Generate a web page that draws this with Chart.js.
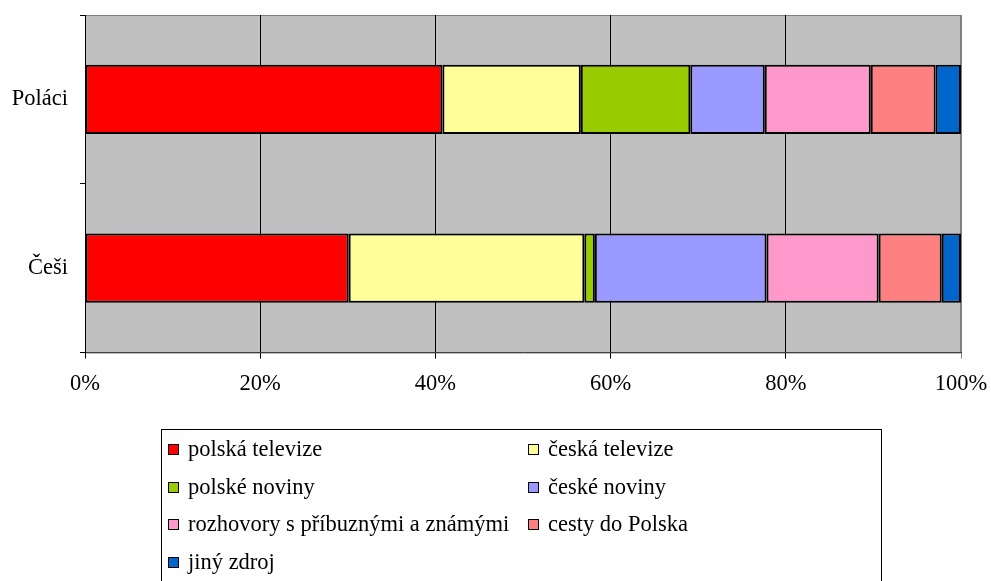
<!DOCTYPE html>
<html>
<head>
<meta charset="utf-8">
<script src="https://cdn.jsdelivr.net/npm/chart.js@4"></script>
<style>
  body { margin: 0; background: #fff; overflow: hidden; }
  #wrap { position: relative; width: 991px; height: 581px; }
  #legend {
    position: absolute; left: 161px; top: 429px; width: 721px; height: 200px;
    border: 1px solid #000; box-sizing: border-box;
    font-family: 'Liberation Serif', 'DejaVu Serif', serif; font-size: 22.5px; color: #000;
  }
  .item { position: absolute; height: 30px; line-height: 30px; white-space: nowrap; }
  .item span.box {
    position: absolute; left: 0; top: 10px; width: 9px; height: 9px;
    border: 1px solid #000; box-sizing: content-box;
  }
  .item span.txt { position: absolute; left: 20px; top: 0; }
</style>
</head>
<body>
<div id="wrap">
  <canvas id="chart" width="991" height="581"></canvas>
  <div id="legend"></div>
</div>
<script>
// categories (top to bottom)
const groups = ['Poláci', 'Češi'];

// percent shares per source
const polskaTelevize = [40.8, 30.1];
const ceskaTelevize = [15.8, 26.9];
const polskeNoviny = [12.5, 1.2];
const ceskeNoviny = [8.5, 19.6];
const rozhovory = [12.1, 12.8];
const cestyDoPolska = [7.4, 7.2];
const jinyZdroj = [2.9, 2.2];

const xTicks = [0, 20, 40, 60, 80, 100];

const seriesNames = ['polská televize', 'česká televize', 'polské noviny', 'české noviny',
  'rozhovory s příbuznými a známými', 'cesty do Polska', 'jiný zdroj'];
const seriesData = [polskaTelevize, ceskaTelevize, polskeNoviny, ceskeNoviny, rozhovory, cestyDoPolska, jinyZdroj];
const colors = ['#FF0000', '#FFFF99', '#99CC00', '#9999FF', '#FF99CC', '#FF8080', '#0066CC'];

const serif = "'Liberation Serif', 'DejaVu Serif', serif";

// gray plot area + gray frame
const plotBg = {
  id: 'plotBg',
  beforeDraw(chart) {
    const { ctx, chartArea: a } = chart;
    ctx.save();
    ctx.fillStyle = '#C0C0C0';
    ctx.fillRect(a.left, a.top, a.right - a.left, a.bottom - a.top);
    ctx.strokeStyle = '#808080';
    ctx.lineWidth = 1;
    ctx.strokeRect(a.left + 0.5, a.top + 0.5, a.right - a.left - 1, a.bottom - a.top);
    ctx.restore();
  }
};

// drop the label overflow padding so layout.padding decides the plot edges
function noPad(s) {
  s.paddingTop = 0; s.paddingBottom = 0; s.paddingLeft = 0; s.paddingRight = 0;
}

const chart = new Chart(document.getElementById('chart'), {
  type: 'bar',
  data: {
    labels: groups,
    datasets: seriesNames.map((name, i) => ({
      label: name,
      data: seriesData[i],
      backgroundColor: colors[i],
      borderColor: '#000',
      borderWidth: 2,
      borderSkipped: false,
      barPercentage: 0.41,
      categoryPercentage: 1
    }))
  },
  options: {
    indexAxis: 'y',
    responsive: false,
    animation: false,
    layout: { padding: { top: 15, right: 30, bottom: 0, left: 0 } },
    plugins: { legend: { display: false }, tooltip: { enabled: false } },
    scales: {
      x: {
        stacked: true,
        min: 0,
        max: 100,
        afterBuildTicks: (s) => { s.ticks = xTicks.map(v => ({ value: v })); },
        afterFit: (s) => { s.height = 228.5; noPad(s); },
        ticks: {
          callback: (v) => v + '%',
          font: { family: serif, size: 22.5 },
          color: '#000',
          padding: 12,
          maxRotation: 0
        },
        grid: {
          color: (c) => (c.tick && c.tick.value === 100 ? '#808080' : '#000'),
          tickLength: 6,
          lineWidth: 1
        },
        border: { color: '#404040', width: 1 }
      },
      y: {
        stacked: true,
        afterFit: (s) => { s.width = 85; noPad(s); },
        ticks: {
          font: { family: serif, size: 22.5 },
          color: '#000',
          padding: 12
        },
        grid: {
          offset: true,
          drawOnChartArea: false,
          tickLength: 5,
          color: '#000'
        },
        border: { color: '#000', width: 1 }
      }
    }
  },
  plugins: [plotBg]
});

// two-column legend built from the datasets
const legend = document.getElementById('legend');
chart.data.datasets.forEach((ds, i) => {
  const col = i % 2, row = Math.floor(i / 2);
  const el = document.createElement('div');
  el.className = 'item';
  el.style.left = (6 + col * 360) + 'px';
  el.style.top = (4 + row * 37.5) + 'px';
  el.innerHTML = '<span class="box" style="background:' + ds.backgroundColor + '"></span>' +
    '<span class="txt">' + ds.label + '</span>';
  legend.appendChild(el);
});
</script>
</body>
</html>
